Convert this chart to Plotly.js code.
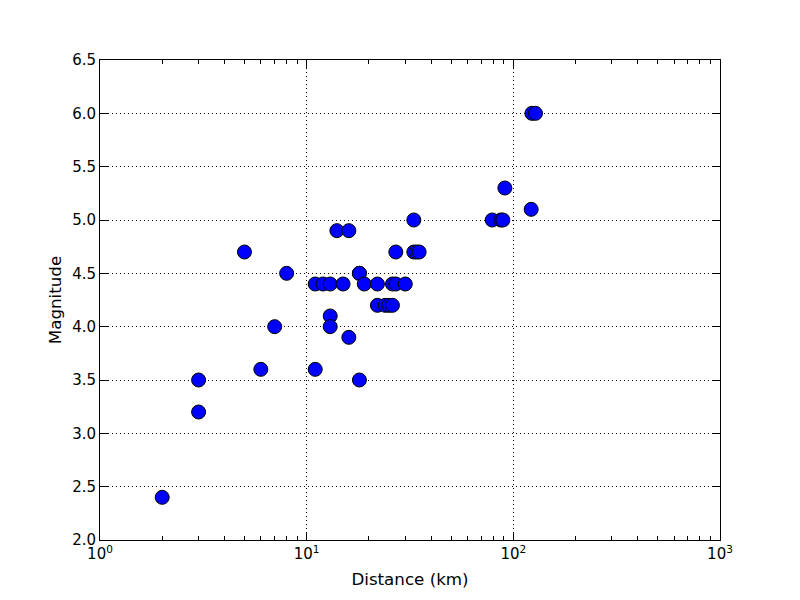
<!DOCTYPE html>
<html>
<head>
<meta charset="utf-8">
<script src="https://cdn.plot.ly/plotly-3.0.1.min.js"></script>
<style>body{margin:0;padding:0;background:#fff;} #plot{width:800px;height:600px;}</style>
</head>
<body>
<div id="plot"></div>
<script>
const distance = [2, 3, 3, 5, 6, 7, 8, 11, 11, 12, 13, 13, 13, 14, 15, 16, 16, 18, 18, 18, 19, 22, 22, 24, 25, 26, 26, 27, 27, 30, 33, 33, 34, 35, 79, 87, 89, 91, 122, 123, 128];
const magnitude = [2.4, 3.5, 3.2, 4.7, 3.6, 4.0, 4.5, 4.4, 3.6, 4.4, 4.4, 4.1, 4.0, 4.9, 4.4, 4.9, 3.9, 4.5, 4.5, 3.5, 4.4, 4.4, 4.2, 4.2, 4.2, 4.4, 4.2, 4.4, 4.7, 4.4, 5.0, 4.7, 4.7, 4.7, 5.0, 5.0, 5.0, 5.3, 5.1, 6.0, 6.0];
const xTickVals = [1, 10, 100, 1000];
const xTickText = ['10<sup>0</sup>', '10<sup>1</sup>', '10<sup>2</sup>', '10<sup>3</sup>'];
const xMinorVals = [2, 3, 4, 5, 6, 7, 8, 9, 20, 30, 40, 50, 60, 70, 80, 90, 200, 300, 400, 500, 600, 700, 800, 900];
const yTickVals = [2.0, 2.5, 3.0, 3.5, 4.0, 4.5, 5.0, 5.5, 6.0, 6.5];

const trace = {
  x: distance, y: magnitude, type: 'scatter', mode: 'markers',
  marker: {color: '#0000ff', size: 14, line: {color: '#000000', width: 1}},
  hoverinfo: 'skip'
};
const font = {family: 'DejaVu Sans, sans-serif', size: 14, color: '#000'};
const layout = {
  width: 800, height: 600,
  margin: {l: 100, r: 80, t: 60, b: 60},
  paper_bgcolor: '#fff', plot_bgcolor: '#fff',
  showlegend: false,
  font: font,
  xaxis: {
    type: 'log', range: [0, 3],
    tickmode: 'array', tickvals: xTickVals, ticktext: xTickText,
    ticks: 'inside', ticklen: 8, tickwidth: 1, tickcolor: '#000',
    minor: {tickmode: 'array', tickvals: xMinorVals, ticks: 'inside', ticklen: 4, tickwidth: 1, tickcolor: '#000', showgrid: false},
    showgrid: true, gridcolor: '#000', griddash: '1px,3px', gridwidth: 1,
    showline: true, linecolor: '#000', linewidth: 1, mirror: 'ticks',
    zeroline: false,
    tickfont: {family: 'DejaVu Sans, sans-serif', size: 15},
    title: {text: 'Distance (km)', font: {family: 'DejaVu Sans, sans-serif', size: 16.7}, standoff: 11}
  },
  yaxis: {
    range: [2.0, 6.5],
    tickmode: 'array', tickvals: yTickVals, ticktext: yTickVals.map(v => v.toFixed(1)),
    ticks: 'inside', ticklen: 8, tickwidth: 1, tickcolor: '#000',
    showgrid: true, gridcolor: '#000', griddash: '1px,3px', gridwidth: 1,
    showline: true, linecolor: '#000', linewidth: 1, mirror: 'ticks',
    zeroline: false,
    tickfont: {family: 'DejaVu Sans, sans-serif', size: 15},
    title: {text: 'Magnitude', font: {family: 'DejaVu Sans, sans-serif', size: 16.7}, standoff: 6}
  }
};
Plotly.newPlot('plot', [trace], layout, {displayModeBar: false, staticPlot: true});
</script>
</body>
</html>
